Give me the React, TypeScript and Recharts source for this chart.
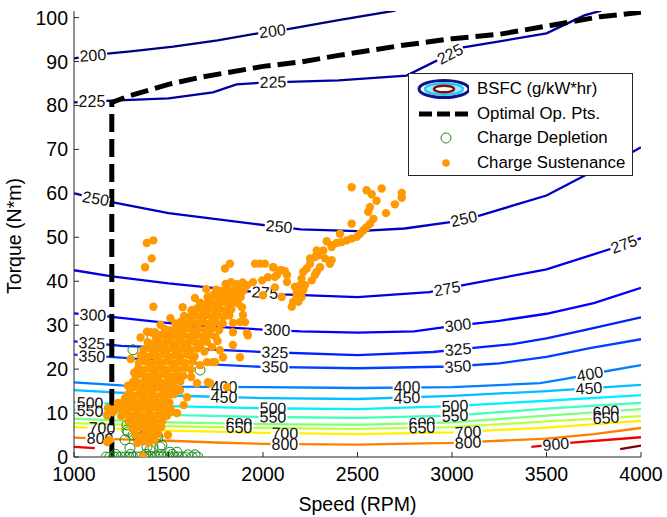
import React from 'react';
import { ComposedChart, Line, Scatter, XAxis, YAxis, Legend } from 'recharts';

const FONT = '"Liberation Sans", Arial, Helvetica, sans-serif';

const speedTicks = [1000, 1500, 2000, 2500, 3000, 3500, 4000];
const torqueTicks = [0, 10, 20, 30, 40, 50, 60, 70, 80, 90, 100];

// BSFC contour lines [speed RPM, torque N*m]
const bsfc200 = [[1000, 90.7], [1150, 91.7], [1300, 92.3], [1525, 93.4], [1760, 94.8], [1985, 96.5], [2110, 97.2], [2400, 99.4], [2700, 101.6]];
const bsfc225 = [[1000, 80.7], [1200, 81.1], [1500, 81.6], [1735, 83], [1860, 84.8], [2000, 85.2], [2400, 85.7], [2760, 86.8], [3060, 93.2], [3500, 96.4], [3700, 100.5], [3790, 101.6]];
const bsfc250 = [[1000, 60], [1200, 58], [1500, 55.5], [2000, 52.8], [2200, 51.8], [2500, 51.4], [2750, 52], [3000, 53.5], [3150, 55], [3500, 59.5], [3700, 64], [3950, 69.3], [4000, 70.5]];
const bsfc275 = [[1000, 42.5], [1200, 41.1], [1500, 39.5], [1850, 38], [2100, 37], [2500, 36.4], [2880, 37.5], [3060, 39.1], [3500, 42.7], [3850, 47.5], [4000, 49.8]];
const bsfc300 = [[1000, 32.7], [1175, 32], [1600, 30], [2000, 29], [2200, 28.6], [2500, 28.3], [2800, 28.6], [3000, 29.8], [3250, 31], [3500, 32.6], [3750, 35], [4000, 38.5]];
const bsfc325 = [[1000, 26.3], [1250, 25.3], [1500, 24.9], [2000, 23.9], [2500, 23.2], [2900, 23.9], [3100, 24.8], [3320, 25.7], [3500, 27], [3700, 28.9], [4000, 31.8]];
const bsfc350 = [[1000, 23.3], [1250, 22.6], [1500, 21.8], [1750, 21], [2000, 20.5], [2500, 20.2], [3000, 20.6], [3250, 21.3], [3500, 22.8], [3730, 24.8], [4000, 26.8]];
const bsfc400 = [[1000, 17], [1250, 16.3], [1500, 16], [2000, 15.9], [2500, 15.7], [3000, 15.9], [3466, 16.8], [3600, 17.8], [3800, 19.4], [4000, 20.9]];
const bsfc450 = [[1000, 15.2], [1500, 14], [2000, 13.4], [2500, 13.2], [3000, 13.9], [3500, 15], [4000, 16.4]];
const bsfc500 = [[1000, 12.5], [1500, 11.6], [2000, 11.1], [2500, 10.9], [3000, 11.6], [3500, 12.8], [4000, 14.1]];
const bsfc550 = [[1000, 10.7], [1500, 9.6], [2000, 9.1], [2500, 8.9], [3000, 9.4], [3500, 11], [4000, 12.3]];
const bsfc600 = [[1000, 8.7], [1500, 7.9], [2000, 7.5], [2500, 7.3], [3000, 7.9], [3500, 9.4], [4000, 10.9]];
const bsfc650 = [[1000, 7.7], [1500, 7], [2000, 6.6], [2500, 6.4], [3000, 6.8], [3500, 8.1], [4000, 9.3]];
const bsfc700 = [[1000, 6.8], [1500, 6], [2000, 5.5], [2500, 5.2], [3000, 5.6], [3500, 6.7], [4000, 8.2]];
const bsfc800 = [[1000, 4.4], [1250, 4.0], [1500, 3.7], [1750, 3.3], [2000, 3.0], [2500, 2.8], [3000, 3.2], [3500, 4.2], [3750, 5.2], [4000, 6.6]];
const bsfc900a = [[1000, 2.3], [1110, 2.0]];
const bsfc900b = [[3420, 2.3], [3620, 3.2], [4000, 4.5]];
const bsfc1000 = [[3890, 1.8], [4000, 2.6]];

// contour labels [speed, torque, text, angle]
const contourLabels = [
  [1100, 91.4, '200', -4], [2050, 96.9, '200', -7],
  [1095, 80.9, '225', 0], [2053, 85.3, '225', -1], [2990, 91.7, '225', -27],
  [1115, 58.8, '250', 10], [2085, 52.4, '250', 5], [3063, 54.2, '250', -13],
  [2011, 37.4, '275', 4], [2974, 38.3, '275', -10], [3910, 48.4, '275', -20],
  [1100, 32.3, '300', 3], [2074, 28.9, '300', 2], [3032, 30.0, '300', -7],
  [1095, 25.9, '325', 3], [2063, 23.8, '325', 2], [3032, 24.5, '325', -5],
  [1095, 22.9, '350', 3], [2063, 20.5, '350', 1], [3032, 20.6, '350', -4],
  [1794, 15.9, '400', 0], [2762, 15.8, '400', 0], [3730, 18.9, '400', -10],
  [1794, 13.6, '450', 1], [2762, 13.5, '450', -1], [3725, 15.6, '450', -4],
  [1085, 12.3, '500', 2], [2053, 11.1, '500', 1], [3016, 11.6, '500', -3],
  [1085, 10.5, '550', 3], [2053, 9.1, '550', 1], [3016, 9.4, '550', -3],
  [1873, 7.6, '600', 1], [2841, 7.7, '600', -2], [3815, 10.3, '600', -4],
  [1873, 6.7, '650', 1], [2841, 6.7, '650', -2], [3815, 8.9, '650', -4],
  [1148, 6.6, '700', 2], [2116, 5.4, '700', 1], [3085, 5.7, '700', -3],
  [1138, 4.2, '800', 2], [2116, 2.9, '800', 0], [3085, 3.3, '800', -3],
  [3550, 2.9, '900', -5],
];

// optimal operating points
const optimalPts = [[1200, 0], [1200, 80.7], [1300, 82.3], [1500, 84.8], [1667, 86.4], [2000, 88.9], [2200, 89.9], [2400, 91.4], [2725, 93.6], [3000, 95.2], [3250, 96.2], [3520, 98.2], [3783, 100.2], [4000, 101.2]];

// Charge Depletion points
const cdPts = [
  [1170, 0], [1190, 0], [1210, 0], [1230, 0], [1250, 0], [1270, 0], [1290, 0], [1310, 0], [1330, 0], [1350, 0],
  [1370, 0], [1390, 0], [1410, 0], [1430, 0], [1450, 0], [1470, 0], [1490, 0], [1510, 0], [1530, 0], [1550, 0],
  [1570, 0], [1590, 0], [1625, 0], [1655, 0],
  [1220, 0.6], [1300, 0.6], [1380, 0.6], [1460, 0.6], [1520, 0.6], [1603, 0.5], [1640, 0.5],
  [1508, 1.1], [1545, 1.1], [1296, 2], [1402, 1.6], [1386, 2.3], [1418, 2.3], [1455, 2.3], [1465, 2.7],
  [1270, 3.9], [1376, 4.3], [1365, 4.5], [1444, 4.5], [1333, 5], [1312, 5], [1439, 5],
  [1286, 5.7], [1280, 6.1], [1386, 6.1], [1428, 6.1], [1339, 6.6], [1402, 6.6], [1439, 6.8],
  [1280, 7.3], [1402, 7.7], [1428, 8.4],
  [1312, 24.4], [1412, 27], [1667, 19.8],
];

// Charge Sustenance points: dense band
const csBand = [
  [1335, 3.2], [1365, 3.6], [1395, 3.3], [1425, 3.8],
  [1325, 5.1], [1355, 4.7], [1385, 5.2], [1415, 4.9], [1445, 5.3],
  [1312, 6.4], [1345, 6.8], [1375, 6.3], [1405, 6.7], [1435, 6.4], [1462, 6.9],
  [1288, 8.1], [1315, 7.7], [1345, 8.2], [1375, 7.9], [1405, 8.3], [1435, 7.8], [1468, 8.2],
  [1175, 9.5], [1250, 9.3], [1280, 9.8], [1310, 9.4], [1340, 9.7], [1370, 9.3], [1400, 9.8], [1430, 9.4], [1460, 9.7], [1492, 9.4],
  [1180, 11.1], [1210, 10.8], [1240, 11.2], [1270, 10.9], [1300, 11.3], [1330, 10.8], [1360, 11.2], [1390, 10.9], [1420, 11.3], [1450, 10.8], [1480, 11.2], [1512, 10.9],
  [1262, 12.4], [1295, 12.8], [1325, 12.3], [1355, 12.7], [1385, 12.4], [1415, 12.8], [1445, 12.3], [1475, 12.7], [1505, 12.4],
  [1282, 14.1], [1315, 13.8], [1345, 14.2], [1375, 13.9], [1405, 14.3], [1435, 13.8], [1465, 14.2], [1495, 13.9], [1528, 14.3],
  [1298, 15.4], [1330, 15.8], [1360, 15.3], [1390, 15.7], [1420, 15.4], [1450, 15.8], [1480, 15.3], [1510, 15.7], [1542, 15.5],
  [1312, 17.1], [1345, 16.8], [1375, 17.2], [1405, 16.9], [1435, 17.3], [1465, 16.8], [1495, 17.2], [1525, 16.9], [1562, 17.2],
  [1328, 18.4], [1360, 18.8], [1390, 18.3], [1420, 18.7], [1450, 18.4], [1480, 18.8], [1510, 18.3], [1540, 18.7], [1578, 18.5],
  [1338, 20.1], [1370, 19.8], [1400, 20.2], [1430, 19.9], [1460, 20.3], [1490, 19.8], [1520, 20.2], [1550, 19.9], [1585, 20.3], [1618, 19.9],
  [1343, 21.4], [1375, 21.8], [1405, 21.3], [1435, 21.7], [1465, 21.4], [1495, 21.8], [1525, 21.3], [1555, 21.7], [1590, 21.4], [1627, 21.7],
  [1353, 23.1], [1385, 22.8], [1415, 23.2], [1445, 22.9], [1475, 23.3], [1505, 22.8], [1535, 23.2], [1565, 22.9], [1600, 23.3], [1638, 22.9],
  [1368, 24.4], [1400, 24.8], [1430, 24.3], [1460, 24.7], [1490, 24.4], [1520, 24.8], [1550, 24.3], [1580, 24.7], [1615, 24.4], [1652, 24.7],
  [1390, 26.1], [1420, 25.8], [1450, 26.2], [1480, 25.9], [1510, 26.3], [1540, 25.8], [1570, 26.2], [1600, 25.9], [1635, 26.3], [1670, 25.9], [1703, 26.2],
  [1432, 27.4], [1460, 27.8], [1490, 27.3], [1520, 27.7], [1550, 27.4], [1580, 27.8], [1610, 27.3], [1645, 27.7], [1680, 27.4], [1715, 27.8], [1748, 27.4],
  [1482, 29.1], [1510, 28.8], [1540, 29.2], [1570, 28.9], [1600, 29.3], [1630, 28.8], [1660, 29.2], [1695, 28.9], [1730, 29.3], [1768, 28.9],
  [1537, 30.4], [1565, 30.8], [1595, 30.3], [1625, 30.7], [1655, 30.4], [1685, 30.8], [1715, 30.3], [1750, 30.7], [1787, 30.4],
  [1582, 32.1], [1610, 31.8], [1640, 32.2], [1670, 31.9], [1700, 32.3], [1730, 31.8], [1760, 32.2], [1790, 31.9], [1822, 32.2],
  [1622, 33.4], [1650, 33.8], [1680, 33.3], [1710, 33.7], [1740, 33.4], [1770, 33.8], [1800, 33.3], [1832, 33.6],
  [1667, 35.1], [1695, 34.8], [1725, 35.2], [1755, 34.9], [1785, 35.3], [1815, 34.8], [1845, 35.2], [1868, 34.9],
  [1707, 36.4], [1735, 36.8], [1765, 36.3], [1795, 36.7], [1825, 36.4], [1855, 36.8], [1882, 36.4],
  [1752, 38.1], [1780, 37.8], [1810, 38.2], [1840, 37.9], [1870, 38.3], [1897, 37.9],
  [1802, 39.4], [1830, 39.8], [1860, 39.3], [1892, 39.7],
];

// Charge Sustenance: scattered points near the band
const csScatter = [
  [1385, 48.7], [1420, 49.3], [1411, 45.2], [1376, 43.2], [1420, 34.2],
  [1386, 28.5], [1405, 28.4], [1428, 28.4],
  [1175, 3.4], [1190, 3.9], [1206, 10.2], [1365, 0.2], [1497, 5], [1545, 10], [1508, 10.2], [1492, 12.5],
  [1545, 17.5], [1561, 15.2], [1651, 16.8], [1709, 17], [1720, 16.8], [1810, 15.9],
  [1614, 23.2], [1667, 25], [1730, 25], [1772, 24.3], [1841, 25.5], [1878, 22.7], [1667, 20.9], [1735, 21.6],
  [1704, 21.6], [1746, 21.6], [1788, 22.7], [1920, 27.7], [1878, 30.7], [1841, 28.4],
  [1825, 44], [1799, 42.9], [1958, 44], [1985, 44], [2010, 44], [2053, 43.2], [2100, 42.5], [2116, 42.3],
  [2127, 41.4], [2074, 41.4], [2026, 40.9], [1995, 40.2], [1947, 39.8], [1915, 39.1], [1889, 38.4], [1862, 38],
  [2127, 39.8], [2063, 38.6], [2000, 36.8], [1889, 34.1], [1894, 32.3], [1905, 30.7], [1841, 30.5], [1704, 33.9],
  [1825, 35.7], [2055, 43.2], [2090, 42.5], [2063, 41], [2099, 36.4], [1915, 28.2],
  [1300, 22.3], [1318, 19.2], [1285, 16.2], [1270, 13.4], [1232, 12.3], [1598, 13.6], [1580, 11.8], [1620, 18.2],
  [1690, 24], [1760, 26.4], [1352, 27.2], [1458, 30.1], [1510, 31.6], [1575, 34.1], [1640, 36.2], [1700, 38.2],
];

// Charge Sustenance: upper arc
const csArc = [
  [2152, 34.2], [2160, 35.3], [2178, 36.4], [2178, 37.2], [2169, 38.7], [2196, 39.1], [2204, 40.6], [2213, 42.1],
  [2231, 42.9], [2249, 44], [2249, 45.2], [2275, 45.5], [2291, 45.9], [2284, 47], [2319, 47], [2337, 49.1],
  [2363, 48.2], [2363, 47.8], [2390, 48.7], [2416, 48.9], [2443, 49.3], [2469, 49.7], [2496, 50.1], [2513, 50.8],
  [2531, 51.6], [2548, 52.3], [2566, 53.1], [2584, 54.2], [2557, 55.8], [2566, 56.9], [2601, 58.3], [2575, 59.8],
  [2548, 60.7], [2469, 61.4], [2628, 61.1], [2651, 55.5], [2698, 57.5], [2734, 60.1], [2734, 59], [2469, 53.1],
  [2407, 50.8], [2328, 45.2], [2363, 44.8], [2354, 44], [2302, 43.2], [2284, 42.1], [2275, 41.4], [2258, 40.2],
  [2222, 39.1], [2213, 38], [2204, 36.4], [2187, 35.3],
];

const toPts = (a: number[][]) => a.map(([x, y]) => ({ x, y }));

const contours = [
  { id: 'c200', color: '#000080', pts: bsfc200 },
  { id: 'c225', color: '#0000A0', pts: bsfc225 },
  { id: 'c250', color: '#0000C0', pts: bsfc250 },
  { id: 'c275', color: '#0000E0', pts: bsfc275 },
  { id: 'c300', color: '#0000FF', pts: bsfc300 },
  { id: 'c325', color: '#0020FF', pts: bsfc325 },
  { id: 'c350', color: '#0040FF', pts: bsfc350 },
  { id: 'c400', color: '#0080FF', pts: bsfc400 },
  { id: 'c450', color: '#00C0FF', pts: bsfc450 },
  { id: 'c500', color: '#00F0FF', pts: bsfc500 },
  { id: 'c550', color: '#40FFC0', pts: bsfc550 },
  { id: 'c600', color: '#80FF80', pts: bsfc600 },
  { id: 'c650', color: '#C0FF40', pts: bsfc650 },
  { id: 'c700', color: '#FFF000', pts: bsfc700 },
  { id: 'c800', color: '#FF8000', pts: bsfc800 },
  { id: 'c900a', color: '#F00000', pts: bsfc900a },
  { id: 'c900b', color: '#F00000', pts: bsfc900b },
  { id: 'c1000', color: '#800000', pts: bsfc1000 },
];

const labelData = contourLabels.map(([x, y, t, a]) => ({ x, y, t, a }));
const cdData = toPts(cdPts);
const csData = toPts([...csBand, ...csScatter, ...csArc]);

const AXIS = '#262626';
const TICK_FS = 19.5;

const BottomTick = (p: any) => (
  <g>
    <line x1={p.x} x2={p.x} y1={p.y} y2={p.y - 5} stroke={AXIS} />
    <text x={p.x} y={p.y + 24} textAnchor="middle" fontSize={TICK_FS} fontFamily={FONT} fill="#000">{p.payload.value}</text>
  </g>
);
const LeftTick = (p: any) => (
  <g>
    <line x1={p.x} x2={p.x + 5} y1={p.y} y2={p.y} stroke={AXIS} />
    <text x={p.x - 6} y={p.y + 7} textAnchor="end" fontSize={TICK_FS} fontFamily={FONT} fill="#000">{p.payload.value}</text>
  </g>
);
const TopTick = (p: any) => <line x1={p.x} x2={p.x} y1={p.y} y2={p.y + 5} stroke={AXIS} />;
const RightTick = (p: any) => <line x1={p.x} x2={p.x - 5} y1={p.y} y2={p.y} stroke={AXIS} />;

const YTitle = (p: any) => {
  const vb = p.viewBox || { x: 0, y: 11, width: 74, height: 446 };
  const cx = vb.x + 21;
  const cy = vb.y + vb.height / 2 + 2;
  return (
    <text x={cx} y={cy} transform={`rotate(-90 ${cx} ${cy})`} textAnchor="middle" fontSize={TICK_FS} fontFamily={FONT} fill="#000">Torque (N*m)</text>
  );
};
const XTitle = (p: any) => {
  const vb = p.viewBox || { x: 74, y: 457, width: 567, height: 60 };
  return (
    <text x={vb.x + vb.width / 2} y={vb.y + 54} textAnchor="middle" fontSize={TICK_FS} fontFamily={FONT} fill="#000">Speed (RPM)</text>
  );
};

const ContourLabel = (p: any) => {
  const { cx, cy, payload } = p;
  if (cx == null || cy == null) return null;
  const w = String(payload.t).length * 8.9 + 2;
  return (
    <g transform={`rotate(${payload.a} ${cx} ${cy})`}>
      <rect x={cx - w / 2} y={cy - 3} width={w} height={6} fill="#fff" />
      <text x={cx} y={cy + 5.5} textAnchor="middle" fontSize={16} fontFamily={FONT} fill="#111">{payload.t}</text>
    </g>
  );
};

const CdShape = (p: any) => (p.cx == null ? null : <circle cx={p.cx} cy={p.cy} r={5} fill="none" stroke="#1E8C1E" strokeWidth={1} />);
const CsShape = (p: any) => (p.cx == null ? null : <circle cx={p.cx} cy={p.cy} r={4.2} fill="#FF9900" />);

const legendRows = [
  { key: 'bsfc', text: 'BSFC (g/kW*hr)' },
  { key: 'opt', text: 'Optimal Op. Pts.' },
  { key: 'cd', text: 'Charge Depletion' },
  { key: 'cs', text: 'Charge Sustenance' },
];
const rowCenters = [15, 40, 64, 89];

const LegendIcon = ({ k }: { k: string }) => {
  if (k === 'bsfc') {
    return (
      <svg width={60} height={22}>
        <ellipse cx={35} cy={11} rx={25} ry={8.5} fill="#fff" stroke="#10108A" strokeWidth={3} />
        <ellipse cx={35} cy={11} rx={19} ry={5.8} fill="#9FE6FF" stroke="#22C8F0" strokeWidth={2.5} />
        <ellipse cx={35} cy={11} rx={10} ry={3.3} fill="#fff" stroke="#8B0A0A" strokeWidth={2.5} />
      </svg>
    );
  }
  if (k === 'opt') {
    return (
      <svg width={60} height={22}>
        <line x1={10} x2={62} y1={11} y2={11} stroke="#000" strokeWidth={5} strokeDasharray="13 5" />
      </svg>
    );
  }
  if (k === 'cd') {
    return (
      <svg width={60} height={22}>
        <circle cx={37} cy={11} r={5} fill="none" stroke="#1E8C1E" strokeWidth={1} />
      </svg>
    );
  }
  return (
    <svg width={60} height={22}>
      <circle cx={37} cy={11} r={3.8} fill="#FF9900" />
    </svg>
  );
};

const LegendBox = () => (
  <div style={{ position: 'relative', width: 225, height: 103, boxSizing: 'border-box', border: '1px solid #262626', background: '#fff', fontFamily: FONT, fontSize: 16.8, color: '#000' }}>
    {legendRows.map((r, i) => (
      <div key={r.key} style={{ position: 'absolute', left: 0, top: rowCenters[i] - 11, height: 22, display: 'flex', alignItems: 'center', whiteSpace: 'nowrap' }}>
        <LegendIcon k={r.key} />
        <span style={{ marginLeft: 8, lineHeight: '22px' }}>{r.text}</span>
      </div>
    ))}
  </div>
);

export default function App() {
  return (
    <div style={{ position: 'absolute', left: 0, top: 0, width: 667, height: 517, background: '#fff' }}>
      <ComposedChart width={667} height={517} margin={{ top: 11, right: 26, bottom: 0, left: 0 }}>
        <XAxis xAxisId="b" type="number" dataKey="x" domain={[1000, 4000]} ticks={speedTicks} allowDataOverflow
          height={60} tickSize={0} tickMargin={0} tick={BottomTick} tickLine={false} axisLine={{ stroke: AXIS }} label={<XTitle />} />
        <XAxis xAxisId="t" orientation="top" type="number" dataKey="x" domain={[1000, 4000]} ticks={speedTicks} allowDataOverflow
          height={0} tickSize={0} tickMargin={0} tick={TopTick} tickLine={false} axisLine={{ stroke: AXIS }} />
        <YAxis yAxisId="l" type="number" dataKey="y" domain={[0, 101.5]} ticks={torqueTicks} allowDataOverflow
          width={74} tickSize={0} tickMargin={0} tick={LeftTick} tickLine={false} axisLine={{ stroke: AXIS }} label={<YTitle />} />
        <YAxis yAxisId="r" orientation="right" type="number" dataKey="y" domain={[0, 101.5]} ticks={torqueTicks} allowDataOverflow
          width={0} tickSize={0} tickMargin={0} tick={RightTick} tickLine={false} axisLine={{ stroke: AXIS }} />
        <Legend layout="vertical" align="center" verticalAlign="middle" content={<LegendBox />}
          wrapperStyle={{ left: 408, top: 73, width: 225, height: 103, margin: 0 }} />
        {contours.map((c) => (
          <Line key={c.id} xAxisId="b" yAxisId="l" data={toPts(c.pts)} dataKey="y" type="linear" stroke={c.color}
            strokeWidth={2.3} dot={false} activeDot={false} isAnimationActive={false} legendType="none" />
        ))}
        <Scatter xAxisId="b" yAxisId="l" data={labelData} dataKey="y" shape={ContourLabel} isAnimationActive={false} legendType="none" />
        <Line xAxisId="b" yAxisId="l" data={toPts(optimalPts)} dataKey="y" type="linear" stroke="#000" strokeWidth={5}
          strokeDasharray="18 7" dot={false} activeDot={false} isAnimationActive={false} legendType="none" />
        <Scatter xAxisId="b" yAxisId="l" data={cdData} dataKey="y" shape={CdShape} isAnimationActive={false} legendType="none" />
        <Scatter xAxisId="b" yAxisId="l" data={csData} dataKey="y" shape={CsShape} isAnimationActive={false} legendType="none" />
      </ComposedChart>
    </div>
  );
}
